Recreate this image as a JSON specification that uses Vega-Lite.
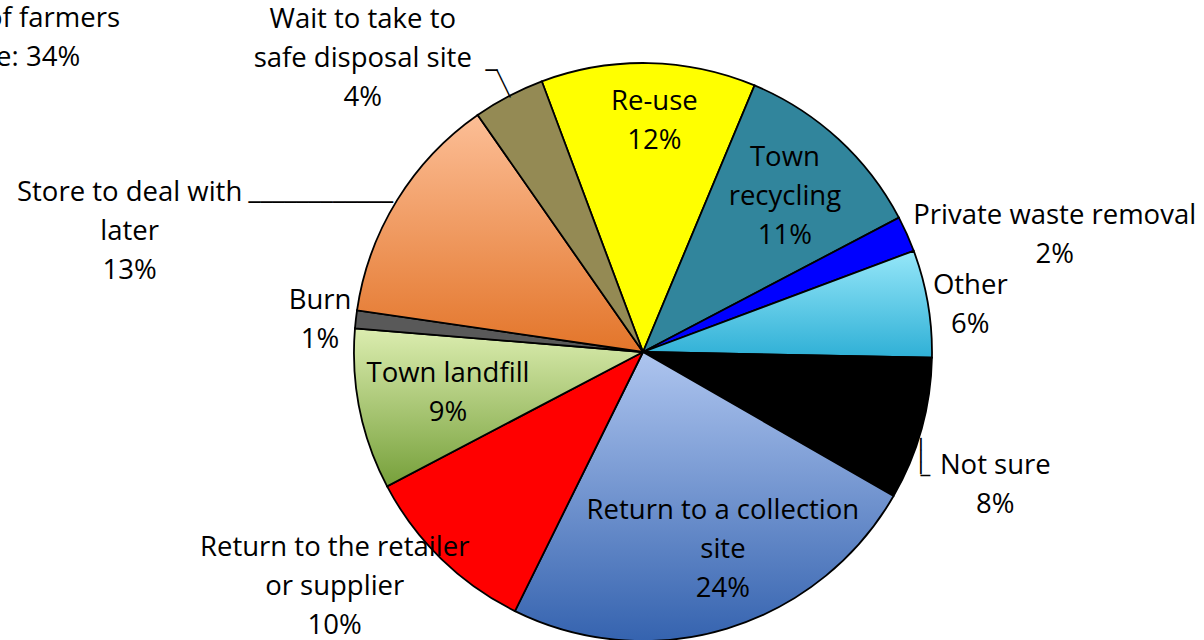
{
  "$schema": "https://vega.github.io/schema/vega-lite/v6.json",
  "width": 1122,
  "height": 576,
  "autosize": {"type": "none"},
  "padding": {"left": 82, "top": 64, "right": 0, "bottom": 0},
  "background": "white",
  "config": {"view": {"stroke": null}, "text": {"font": "Open Sans", "fontSize": 27.5, "lineBreak": "\n", "lineHeight": 39, "align": "center", "baseline": "middle", "color": "black"}},
  "datasets": {
    "slices": [
      {"idx": 0, "cat": "Re-use", "pct": 12, "label": "Re-use\n12%"},
      {"idx": 1, "cat": "Town recycling", "pct": 11, "label": "Town\nrecycling\n11%"},
      {"idx": 2, "cat": "Private waste removal", "pct": 2, "label": "Private waste removal\n2%"},
      {"idx": 3, "cat": "Other", "pct": 6, "label": "Other\n6%"},
      {"idx": 4, "cat": "Not sure", "pct": 8, "label": "Not sure\n8%"},
      {"idx": 5, "cat": "Return to a collection site", "pct": 24, "label": "Return to a collection\nsite\n24%"},
      {"idx": 6, "cat": "Return to the retailer or supplier", "pct": 10, "label": "Return to the retailer\nor supplier\n10%"},
      {"idx": 7, "cat": "Town landfill", "pct": 9, "label": "Town landfill\n9%"},
      {"idx": 8, "cat": "Burn", "pct": 1, "label": "Burn\n1%"},
      {"idx": 9, "cat": "Store to deal with later", "pct": 13, "label": "Store to deal with\nlater\n13%"},
      {"idx": 10, "cat": "Wait to take to safe disposal site", "pct": 4, "label": "Wait to take to\nsafe disposal site\n4%"}
    ],
    "note": [
      {"line": 1, "text": "Proportion of farmers"},
      {"line": 2, "text": "with none: 34%"}
    ]
  },
  "layer": [
    {
      "data": {"name": "slices"},
      "encoding": {
        "theta": {"field": "pct", "type": "quantitative", "stack": true, "scale": {"range": [-0.3578, 5.9254]}},
        "order": {"field": "idx", "type": "quantitative"},
        "detail": {"field": "cat", "type": "nominal"}
      },
      "layer": [
        {
          "mark": {"type": "arc", "radius": 289, "stroke": "black", "strokeWidth": 1.8},
          "encoding": {
            "color": {
              "field": "cat",
              "type": "nominal",
              "legend": null,
              "sort": null,
              "scale": {
                "domain": ["Re-use", "Town recycling", "Private waste removal", "Other", "Not sure", "Return to a collection site", "Return to the retailer or supplier", "Town landfill", "Burn", "Store to deal with later", "Wait to take to safe disposal site"],
                "range": ["#FFFF00", "#31859C", "#0000FF", "#5FCDE8", "#000000", "#7396D6", "#FF0000", "#AACB72", "#595959", "#F09A5E", "#948A54"]
              },
              "condition": [
                {"test": "datum.cat === 'Other'", "value": {"gradient": "linear", "x1": 0, "y1": 0, "x2": 0, "y2": 1, "stops": [{"offset": 0, "color": "#96E7F9"}, {"offset": 1, "color": "#2FB0D6"}]}},
                {"test": "datum.cat === 'Return to a collection site'", "value": {"gradient": "linear", "x1": 0, "y1": 0, "x2": 0, "y2": 1, "stops": [{"offset": 0, "color": "#AEC5EF"}, {"offset": 1, "color": "#3563AF"}]}},
                {"test": "datum.cat === 'Town landfill'", "value": {"gradient": "linear", "x1": 0, "y1": 0, "x2": 0, "y2": 1, "stops": [{"offset": 0, "color": "#DCEDB0"}, {"offset": 1, "color": "#76A03A"}]}},
                {"test": "datum.cat === 'Store to deal with later'", "value": {"gradient": "linear", "x1": 0, "y1": 0, "x2": 0, "y2": 1, "stops": [{"offset": 0, "color": "#FCBE96"}, {"offset": 1, "color": "#E3752A"}]}}
              ]
            }
          }
        },
        {
          "mark": {"type": "text", "radius": 289, "dx": -4, "dy": 3, "align": "right", "font": "DejaVu Sans", "fontSize": 20},
          "encoding": {"text": {"condition": {"test": "datum.cat === 'Store to deal with later'", "value": "────────────"}, "value": ""}}
        },
        {
          "mark": {"type": "text", "radius": 289, "dx": -13.6, "dy": 0, "angle": 64, "font": "DejaVu Sans", "fontSize": 17},
          "encoding": {"text": {"condition": {"test": "datum.cat === 'Wait to take to safe disposal site'", "value": "───"}, "value": ""}}
        },
        {
          "mark": {"type": "text", "radius": 289, "dx": -11, "dy": -25, "align": "right", "font": "DejaVu Sans", "fontSize": 20},
          "encoding": {"text": {"condition": {"test": "datum.cat === 'Wait to take to safe disposal site'", "value": "─"}, "value": ""}}
        },
        {
          "mark": {"type": "text", "radius": 289, "dx": 26.8, "dy": 1.5, "angle": 90, "font": "DejaVu Sans", "fontSize": 20},
          "encoding": {"text": {"condition": {"test": "datum.cat === 'Not sure'", "value": "───"}, "value": ""}}
        },
        {
          "mark": {"type": "text", "radius": 289, "dx": -1, "dy": 47, "align": "left", "font": "DejaVu Sans", "fontSize": 16},
          "encoding": {"text": {"condition": {"test": "datum.cat === 'Not sure'", "value": "─"}, "value": ""}}
        },
        {
          "mark": {"type": "text", "radius": 231, "dx": 7, "dy": -19.5},
          "encoding": {"text": {"condition": {"test": "datum.cat === 'Re-use'", "field": "label"}, "value": ""}}
        },
        {
          "mark": {"type": "text", "radius": 210, "dx": 0, "dy": -39},
          "encoding": {"text": {"condition": {"test": "datum.cat === 'Town recycling'", "field": "label"}, "value": ""}}
        },
        {
          "mark": {"type": "text", "radius": 428, "dx": 21, "dy": 38.5},
          "encoding": {"text": {"condition": {"test": "datum.cat === 'Private waste removal'", "field": "label"}, "value": ""}}
        },
        {
          "mark": {"type": "text", "radius": 330, "dx": 2, "dy": -10.5},
          "encoding": {"text": {"condition": {"test": "datum.cat === 'Other'", "field": "label"}, "value": ""}}
        },
        {
          "mark": {"type": "text", "radius": 376, "dx": -10, "dy": 13.5},
          "encoding": {"text": {"condition": {"test": "datum.cat === 'Not sure'", "field": "label"}, "value": ""}}
        },
        {
          "mark": {"type": "text", "radius": 213, "dx": 18, "dy": -45},
          "encoding": {"text": {"condition": {"test": "datum.cat === 'Return to a collection site'", "field": "label"}, "value": ""}}
        },
        {
          "mark": {"type": "text", "radius": 387, "dx": -38, "dy": -81},
          "encoding": {"text": {"condition": {"test": "datum.cat === 'Return to the retailer or supplier'", "field": "label"}, "value": ""}}
        },
        {
          "mark": {"type": "text", "radius": 200, "dx": 1, "dy": -17.5},
          "encoding": {"text": {"condition": {"test": "datum.cat === 'Town landfill'", "field": "label"}, "value": ""}}
        },
        {
          "mark": {"type": "text", "radius": 325, "dx": 0, "dy": -14.5},
          "encoding": {"text": {"condition": {"test": "datum.cat === 'Burn'", "field": "label"}, "value": ""}}
        },
        {
          "mark": {"type": "text", "radius": 527, "dx": -65, "dy": 118},
          "encoding": {"text": {"condition": {"test": "datum.cat === 'Store to deal with later'", "field": "label"}, "value": ""}}
        },
        {
          "mark": {"type": "text", "radius": 405, "dx": -92, "dy": 27},
          "encoding": {"text": {"condition": {"test": "datum.cat === 'Wait to take to safe disposal site'", "field": "label"}, "value": ""}}
        }
      ]
    },
    {
      "data": {"name": "note"},
      "transform": [{"filter": "datum.line === 1"}],
      "mark": {"type": "text", "theta": 5.2793, "radius": 620, "align": "right"},
      "encoding": {"text": {"field": "text", "type": "nominal"}}
    },
    {
      "data": {"name": "note"},
      "transform": [{"filter": "datum.line === 2"}],
      "mark": {"type": "text", "theta": 5.1936, "radius": 635, "align": "right"},
      "encoding": {"text": {"field": "text", "type": "nominal"}}
    }
  ]
}
